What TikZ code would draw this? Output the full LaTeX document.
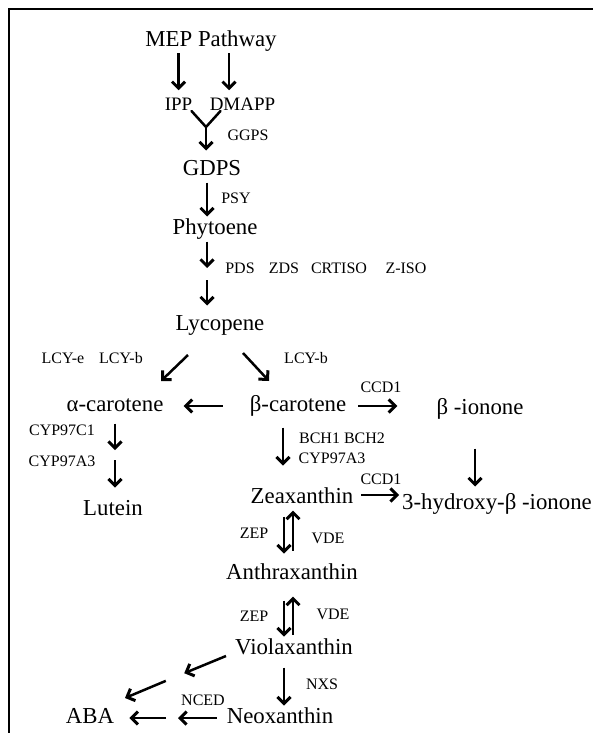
\documentclass[tikz,border=0pt]{standalone}
\usepackage{fontspec}
\setmainfont{Liberation Serif}
\usetikzlibrary{positioning, arrows.meta}

\begin{document}
\begin{tikzpicture}[x=1pt, y=-1pt,
        chem/.style={inner sep=2pt, font=\fontsize{22.8}{27}\selectfont, text height=16pt, text depth=4.6pt},
        prec/.style={chem, font=\fontsize{19}{23}\selectfont, text height=13.3pt, text depth=3.8pt},
        enz/.style={inner sep=1pt, font=\fontsize{16}{19}\selectfont},
        arrow/.style={-{Straight Barb[length=6.5pt, width=13pt, line width=3pt]}, line width=2.5pt},
        plain/.style={line width=2.5pt, line cap=round}
    ]
    \useasboundingbox (0,0) rectangle (593,733);
    \draw[line width=1.8pt] (9,733) -- (9,9) -- (593,9);

    \node[chem] (mep) at (211,41) {MEP Pathway};
    \node[prec] (ipp) at (178.5,106) {IPP};
    \node[prec] (dmapp) at (242.5,106) {DMAPP};
    \node[chem] (gdps) at (212,170) {GDPS};
    \node[chem] (phyt) at (215,229) {Phytoene};
    \node[chem] (lyco) at (220,325) {Lycopene};
    \node[chem] (acar) at (115,406) {α-carotene};
    \node[chem] (bcar) at (298,406) {β-carotene};
    \node[chem] (bion) at (480,409) {β -ionone};
    \node[chem] (lut) at (113,510) {Lutein};
    \node[chem] (zea) at (302,498) {Zeaxanthin};
    \node[chem] (hbion) at (497,504) {3-hydroxy-β -ionone};
    \node[chem] (anth) at (292,574) {Anthraxanthin};
    \node[chem] (viol) at (294,649) {Violaxanthin};
    \node[chem] (neox) at (280,718) {Neoxanthin};
    \node[chem] (aba) at (90,718) {ABA};

    \node[enz] (ggps) at (248,135) {GGPS};
    \node[enz] (psy) at (236,198) {PSY};
    \node[enz] (pds) at (240,268) {PDS};
    \node[enz] (zds) at (284,268) {ZDS};
    \node[enz] (crtiso) at (339,268) {CRTISO};
    \node[enz] (ziso) at (406,268) {Z-ISO};
    \node[enz] (lcye) at (63,358) {LCY-e};
    \node[enz] (lcyb) at (121,358) {LCY-b};
    \node[enz] (lcybb) at (306,358) {LCY-b};
    \node[enz] (ccda) at (381,387) {CCD1};
    \node[enz] (cypc) at (62,430) {CYP97C1};
    \node[enz] (cypa) at (62,461) {CYP97A3};
    \node[enz] (bch) at (342,438) {BCH1 BCH2};
    \node[enz] (cypab) at (332,458) {CYP97A3};
    \node[enz] (ccdb) at (381,479) {CCD1};
    \node[enz] (zepa) at (254,533) {ZEP};
    \node[enz] (vdea) at (328,538) {VDE};
    \node[enz] (zepb) at (254,616) {ZEP};
    \node[enz] (vdeb) at (333,614) {VDE};
    \node[enz] (nxs) at (322,684) {NXS};
    \node[enz] (nced) at (203,700) {NCED};

    \coordinate (join) at (206,127);
    \coordinate (pmid) at (207,274);
    \coordinate (amid) at (115,455);
    \coordinate (vmid) at (175,677);
    \coordinate (nmid) at (172,718);

    \draw[arrow, shorten >=5pt] (mep.south -| ipp) -- (ipp.north);
    \draw[arrow, shorten >=5pt] ([xshift=18pt]mep.south) -- ([xshift=18pt]mep.south |- dmapp.north);
    \draw[plain] ([xshift=13pt, yshift=-5pt]ipp.center) -- (join) -- ([xshift=-22pt, yshift=-5pt]dmapp.center);
    \draw[arrow, shorten >=7pt] (join) -- (join |- gdps.north);
    \draw[arrow] ([xshift=-5pt]gdps.south) -- ([xshift=-5pt]gdps.south |- phyt.north);
    \draw[arrow, shorten >=6pt] (phyt.south -| pmid) -- (pmid);
    \draw[arrow, shorten <=6pt, shorten >=7pt] (pmid) -- (pmid |- lyco.north);
    \draw[arrow] ([xshift=-32pt, yshift=-30pt]lyco.center) -- ([xshift=46pt, yshift=25pt]acar.center);
    \draw[arrow] ([xshift=23pt, yshift=-28pt]lyco.center) -- ([xshift=-29pt, yshift=25pt]bcar.center);
    \draw[arrow, shorten <=25pt, shorten >=18pt] (bcar.west) -- (bcar.west -| acar.east);
    \draw[arrow, shorten <=10pt, shorten >=37pt] (bcar.east) -- (bcar.east -| bion.west);
    \draw[arrow, shorten <=5pt, shorten >=5pt] (acar.south -| amid) -- (amid);
    \draw[arrow, shorten <=5pt, shorten >=10pt] (amid) -- (amid |- lut.north);
    \draw[arrow, shorten <=9pt, shorten >=20pt] ([xshift=-15pt]bcar.south) -- ([xshift=-15pt]bcar.south |- zea.north);
    \draw[arrow, shorten <=27pt, shorten >=5pt] ([xshift=-5pt]bion.south) -- ([xshift=-5pt]bion.south |- hbion.north);
    \draw[arrow, shorten <=6pt, shorten >=1pt] ([yshift=3pt]zea.east) -- ([yshift=3pt]zea.east -| hbion.west);
    \draw[arrow, shorten <=6pt, shorten >=8pt] ([xshift=-8pt]anth.north |- zea.south) -- ([xshift=-8pt]anth.north);
    \draw[arrow, shorten <=11pt] ([xshift=1pt]anth.north) -- ([xshift=1pt]anth.north |- zea.south);
    \draw[arrow, shorten <=14pt] ([xshift=-8pt]anth.south) -- ([xshift=-8pt]anth.south |- viol.north);
    \draw[arrow, shorten <=2pt, shorten >=10pt] ([xshift=1pt]anth.south |- viol.north) -- ([xshift=1pt]anth.south);
    \draw[arrow, shorten >=10pt] ([xshift=-68pt, yshift=-7pt]viol.center) -- (vmid);
    \draw[arrow, shorten <=10pt] (vmid) -- ([xshift=35pt, yshift=20pt]aba.center);
    \draw[arrow, shorten <=6pt] ([xshift=-10pt]viol.south) -- ([xshift=-10pt]viol.south |- neox.north);
    \draw[arrow, shorten <=8pt, shorten >=6pt] (neox.west) -- (nmid);
    \draw[arrow, shorten <=6pt, shorten >=13pt] (nmid) -- (aba.east);
\end{tikzpicture}
\end{document}
